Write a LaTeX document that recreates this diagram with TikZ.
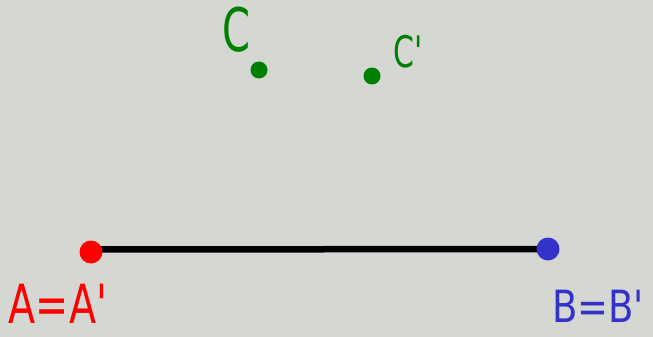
\documentclass[tikz,border=0pt]{standalone}
\usepackage{fontspec}
\setmainfont{DejaVu Sans}
\usepackage{graphicx}
\definecolor{bgc}{RGB}{213,216,210}
\definecolor{gr}{RGB}{0,128,0}
\definecolor{rd}{RGB}{255,0,0}
\definecolor{bl}{RGB}{51,51,204}
\pgfdeclarelayer{bglayer}
\pgfdeclarelayer{linelayer}
\pgfsetlayers{bglayer,linelayer,main}
\tikzset{
  dotnode/.style={circle, inner sep=0pt, minimum size=#1},
  lbl/.style={inner sep=0pt, anchor=center}
}
\begin{document}
\begin{tikzpicture}[x=1pt,y=-1pt]
\begin{pgfonlayer}{bglayer}
\fill[bgc] (0,0) rectangle (653,337);
\end{pgfonlayer}
\useasboundingbox (0,0) rectangle (653,337);
\node[dotnode=23pt, fill=rd] (A) at (91,252) {};
\node[dotnode=23pt, fill=bl] (B) at (548,249) {};
\coordinate (L1) at (95,249.5);
\begin{pgfonlayer}{linelayer}
\draw[line width=6.5pt] (L1) -- (B.center);
\end{pgfonlayer}
\node[dotnode=17pt, fill=gr] (C) at (259,70) {};
\node[dotnode=17pt, fill=gr] (Cp) at (372,76) {};
\node[lbl, text=gr] (Cl) at (236,30) {\scalebox{1}[1.5]{\fontsize{40}{40}\selectfont C}};
\node[lbl, text=gr] (Cpl) at (408,52) {\scalebox{1}[1.45]{\fontsize{30}{30}\selectfont C\textquotesingle}};
\node[lbl, text=rd] (Al) at (58,304) {\scalebox{1.1}[1.5]{\fontsize{36}{36}\selectfont A=A\textquotesingle}};
\node[lbl, text=bl] (Bl) at (598,306) {\scalebox{1}[1.2]{\fontsize{37}{37}\selectfont B=B\textquotesingle}};
\end{tikzpicture}
\end{document}
